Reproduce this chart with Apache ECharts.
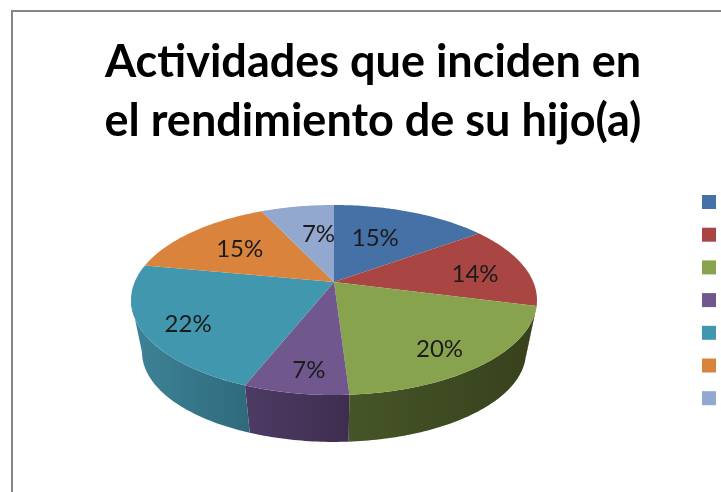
<!DOCTYPE html>
<html>
<head>
<meta charset="utf-8">
<style>
  html, body { margin: 0; padding: 0; background: #fff; }
  #chart { width: 721px; height: 492px; }
</style>
<script src="https://cdn.jsdelivr.net/npm/echarts@6/dist/echarts.min.js"></script>
</head>
<body>
<div id="chart"></div>
<script>
// legend text is cut off in the picture, so these names never show
const categories = ["Actividad 1", "Actividad 2", "Actividad 3", "Actividad 4", "Actividad 5", "Actividad 6", "Actividad 7"];
const shares = [15, 14, 20, 7, 22, 15, 7];
const topColors = ["#4571a6", "#a94543", "#87a34d", "#70588e", "#4097ae", "#d9833d", "#92a8ce"];
const wallColors = [
  ["#2f4d72", "#2f4d72"],
  ["#743030", "#743030"],
  ["#465527", "#37411d"],
  ["#4e3b64", "#3f2d50"],
  ["#3f8398", "#2e6a7c"],
  ["#945a2a", "#945a2a"],
  ["#64738d", "#64738d"]
];
const labelShift = [[-8, 1], [26, 2], [22, 21], [-4, 27], [-35, 14], [-6, -1], [8, 1]];

// perspective of the pie plane
const apexX = 334, apexY = 282, scaleX = 199.3, scaleY = 91.6, tilt = 0.1895;
const baseDrop = 53, baseScale = 0.946;
const wallFrom = 103, wallTo = 259;

function project(deg, r, level) {
  const a = deg * Math.PI / 180;
  const u = r * Math.sin(a), v = -r * Math.cos(a);
  const s = 1 / (1 - tilt * v);
  const f = level ? baseScale : 1;
  return [apexX + scaleX * f * u * s, apexY + (level ? baseDrop : 0) + scaleY * f * v * s];
}

function arc(from, to, level) {
  const pts = [];
  const n = Math.max(2, Math.ceil(to - from));
  for (let i = 0; i <= n; i++) pts.push(project(from + (to - from) * i / n, 1, level));
  return pts;
}

const total = shares.reduce((a, b) => a + b, 0);
let running = 0;
const series = categories.map((name, i) => {
  const from = running / total * 360;
  running += shares[i];
  const to = running / total * 360;
  return {
    type: "custom",
    name: name,
    coordinateSystem: "none",
    silent: true,
    animation: false,
    itemStyle: { color: topColors[i] },
    data: [[from, to, shares[i]]],
    renderItem: function (params, api) {
      const a = api.value(0), b = api.value(1);
      const children = [];
      const wa = Math.max(a, wallFrom), wb = Math.min(b, wallTo);
      if (wb > wa) {
        children.push({
          type: "polygon",
          shape: { points: arc(wa, wb, 0).concat(arc(wa, wb, 1).reverse()) },
          style: {
            fill: new echarts.graphic.LinearGradient(0, 0, 1, 0, [
              { offset: 0, color: wallColors[i][0] },
              { offset: 1, color: wallColors[i][1] }
            ])
          }
        });
      }
      children.push({
        type: "polygon",
        shape: { points: [[apexX, apexY]].concat(arc(a, b, 0)) },
        style: { fill: topColors[i] }
      });
      const mid = project((a + b) / 2, 0.6, 0);
      children.push({
        type: "text",
        x: mid[0] + labelShift[i][0],
        y: mid[1] + labelShift[i][1],
        style: {
          text: api.value(2) + "%",
          fill: "#1b1b1b",
          font: "24px Lato",
          align: "center",
          verticalAlign: "middle"
        }
      });
      return { type: "group", children: children };
    }
  };
});

const chart = echarts.init(document.getElementById("chart"));
chart.setOption({
  backgroundColor: "#fff",
  animation: false,
  title: {
    text: "Actividades que inciden en\nel rendimiento de su hijo(a)",
    left: 368,
    top: 28,
    textAlign: "center",
    textStyle: { fontFamily: "Lato", fontWeight: "bold", fontSize: 45, lineHeight: 59, color: "#000" }
  },
  legend: {
    orient: "vertical",
    left: 702,
    top: 195,
    padding: 0,
    icon: "rect",
    itemWidth: 14,
    itemHeight: 14,
    itemGap: 18.7,
    selectedMode: false,
    data: categories,
    formatter: function () { return ""; }
  },
  graphic: [{
    type: "rect",
    silent: true,
    shape: { x: 12, y: 11, width: 800, height: 600 },
    style: { fill: "none", stroke: "#868686", lineWidth: 2 }
  }],
  series: series
});
</script>
</body>
</html>
